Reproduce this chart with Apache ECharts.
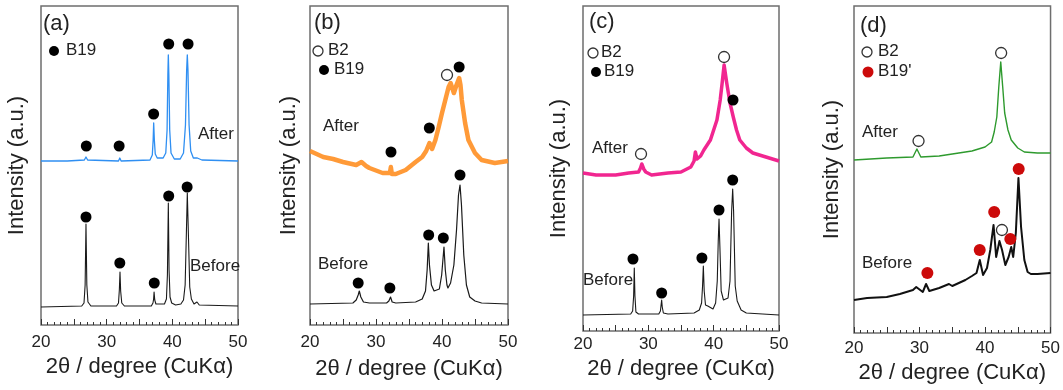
<!DOCTYPE html>
<html>
<head>
<meta charset="utf-8">
<script src="https://cdn.jsdelivr.net/npm/echarts@6/dist/echarts.min.js"></script>
<style>
  html, body { margin: 0; padding: 0; background: #fff; }
  #chart { width: 1063px; height: 390px; }
</style>
</head>
<body>
<div id="chart"></div>
<script>
// XRD patterns (2θ in degrees, intensity in arbitrary units)
const xTicks = [20, 30, 40, 50];

// (a)
const aBefore = [[20,18],[26.2,19],[26.55,22],[26.72,40],[26.85,101],[26.98,40],[27.15,23],[27.6,19],
  [31.5,19],[31.8,22],[31.93,35],[32.03,53],[32.13,34],[32.3,22],[32.7,19],
  [36.8,19],[37.05,22],[37.15,26],[37.22,33],[37.32,25],[37.5,21],
  [38.8,21],[39.1,26],[39.25,50],[39.39,122],[39.5,55],[39.65,28],[39.9,22],[40.5,20],
  [41.3,21],[41.7,25],[41.95,40],[42.15,95],[42.28,132],[42.45,90],[42.65,38],[42.9,26],[43.3,21],[43.75,23],[44.1,20],[50,19]];
const aAfter = [[20,164],[24,164],[26.6,165],[26.85,168],[27.1,165],[31.8,164],[32.0,167],[32.2,164],
  [36.6,165],[36.95,170],[37.08,185],[37.16,202],[37.26,185],[37.4,171],[37.7,167],[38.6,167],
  [39.0,172],[39.2,195],[39.32,250],[39.39,270],[39.47,250],[39.6,195],[39.8,172],[40.3,166],
  [41.2,166],[41.7,172],[42.0,200],[42.18,255],[42.28,270],[42.38,255],[42.55,200],[42.8,174],
  [43.2,167],[43.8,167],[44.5,165],[50,164]];
const aB19 = [[26.85,108],[32.0,62],[37.25,42],[39.45,129],[42.25,138],
  [26.9,179],[31.9,179],[37.15,211],[39.45,281],[42.4,281]];

// (b)
const bBefore = [[20,21],[26.5,22],[27.0,25],[27.3,30],[27.47,34],[27.7,28],[28.1,23],[29,22],
  [31.6,22],[31.95,24],[32.2,28],[32.45,23],[33,22],[36,23],[37.0,26],[37.5,34],[37.75,55],
  [37.93,82],[38.1,60],[38.4,40],[38.8,34],[39.1,32],[39.6,36],[39.95,50],[40.3,78],[40.5,55],
  [40.75,40],[40.9,37],[41.3,42],[41.8,60],[42.2,95],[42.5,130],[42.73,140],[42.95,120],
  [43.3,70],[43.7,40],[44.2,28],[45,24],[46,22],[50,21]];
const bAfter = [[20,174],[21,171],[22,168],[23.5,166],[25,163],[27,160],[27.8,163],[28.5,159],
  [29,157],[31,152],[32.1,152],[32.25,158],[32.4,151],[33,151],[34.5,155],[36,163],[37,168],
  [37.6,174],[38.1,182],[38.5,176],[39,185],[39.5,198],[40,212],[40.5,225],[41,238],[41.3,242],
  [41.8,232],[42.2,240],[42.6,247],[42.8,240],[43,225],[43.5,202],[44,185],[45,172],[46,165],
  [48,162],[50,164]];
const bB19 = [[27.3,42],[32.1,37],[37.98,90],[40.2,87],[42.73,150],[32.27,173],[38.08,197],[42.6,258]];
const bB2 = [[40.76,250]];

// (c)
const cBefore = [[20,16],[27.3,17],[27.6,20],[27.75,35],[27.85,63],[27.95,35],[28.1,19],[28.5,17],
  [31.6,17],[31.85,20],[31.95,26],[32.04,31],[32.13,24],[32.3,18],[33,17],[37,18],[37.8,21],
  [38.15,28],[38.3,45],[38.42,65],[38.55,40],[38.75,26],[39.1,25],[39.4,23],[39.9,22],[40.3,28],
  [40.55,50],[40.7,90],[40.82,112],[40.95,85],[41.15,40],[41.5,31],[41.8,29],[42.2,33],[42.5,50],
  [42.75,120],[42.91,142],[43.05,120],[43.3,45],[43.6,30],[43.85,28],[44.2,21],[45,18],[50,16]];
const cAfter = [[20,158],[22,156],[25,156],[27,158],[28.5,159],[28.8,163],[29.0,167],[29.3,162],
  [29.6,159],[30.5,156],[33,158],[35,159],[36.5,164],[37.0,170],[37.2,179],[37.45,172],[38,175],
  [38.5,181],[39.5,191],[40.5,211],[41,231],[41.3,248],[41.6,266],[42,248],[42.5,228],[43,214],
  [43.5,201],[44,191],[45,183],[46,178],[48,174],[50,170]];
const cB19 = [[27.65,72],[32.04,38],[38.2,73],[40.82,121],[42.91,151],[42.96,231]];
const cB2 = [[28.88,177],[41.59,274]];

// (d)
const dBefore = [[20,33],[22,35],[25,36],[27,39],[29,43],[29.5,46],[30.5,41],[31.0,49],[31.5,42],
  [33,45],[34.5,49],[35,47],[36,50],[37,53],[38,57],[38.7,60],[39.2,73],[39.7,58],[40.3,65],
  [40.8,83],[41.3,108],[41.7,76],[42.2,92],[42.6,83],[43.1,68],[43.6,76],[44.0,86],[44.3,76],
  [44.7,100],[45.1,155],[45.5,106],[46,73],[46.5,61],[47,59],[48,59],[50,60]];
const dAfter = [[20,173],[25,175],[29,176],[29.6,184],[30.2,176],[33,177],[36,180],[38,182],[40,186],
  [41,191],[41.4,201],[41.8,216],[42.1,246],[42.4,271],[42.7,246],[43.0,220],[43.5,203],[44,193],
  [45,185],[46,181],[48,180],[50,180]];
const dB19p = [[31.2,60],[39.19,83],[41.4,121],[43.86,94],[45.14,164]];
const dB2 = [[42.58,103],[29.85,192],[42.46,280]];

const FONT = 'Liberation Sans, Arial, sans-serif';
const TXT = '#222';
const FRAME = '#6e6e6e';

// plotting boxes for the four panels
const boxes = [
  { left: 41,  top: 6, width: 197, height: 319, labelMargin: 9, nameGap: 30, yGap: 13 },
  { left: 310, top: 6, width: 198, height: 319, labelMargin: 9, nameGap: 33, yGap: 10 },
  { left: 583, top: 6, width: 196, height: 325, labelMargin: 5, nameGap: 25, yGap: 13 },
  { left: 854, top: 6, width: 197, height: 327, labelMargin: 7, nameGap: 29, yGap: 11 }
];

const grid = boxes.map(b => ({
  left: b.left, top: b.top, width: b.width, height: b.height,
  show: true, borderColor: FRAME, borderWidth: 1.5, containLabel: false
}));

const xAxis = boxes.map((b, i) => ({
  type: 'value', gridIndex: i, min: 20, max: 50, interval: 5,
  name: '2θ / degree (CuKα)', nameLocation: 'middle', nameGap: b.nameGap,
  nameTextStyle: { fontFamily: FONT, fontSize: 22, color: TXT },
  axisLine: { show: false },
  axisTick: { show: true, inside: true, length: 6, lineStyle: { color: '#333', width: 1 } },
  minorTick: { show: true, splitNumber: 5, length: 3, lineStyle: { color: '#333', width: 1 } },
  splitLine: { show: false },
  axisLabel: {
    margin: b.labelMargin, fontFamily: FONT, fontSize: 17, color: TXT,
    formatter: v => (xTicks.indexOf(v) >= 0 ? String(v) : '')
  }
}));

const yAxis = boxes.map((b, i) => ({
  type: 'value', gridIndex: i, min: 0, max: b.height,
  name: 'Intensity (a.u.)', nameLocation: 'middle', nameGap: b.yGap,
  nameTextStyle: { fontFamily: FONT, fontSize: 22, color: TXT },
  axisLine: { show: false }, axisTick: { show: false },
  axisLabel: { show: false }, splitLine: { show: false }
}));

function trace(i, data, color, width, opacity) {
  return {
    type: 'line', xAxisIndex: i, yAxisIndex: i, data: data,
    showSymbol: false, symbol: 'none', silent: true, z: 2,
    lineStyle: { color: color, width: width, join: 'round', opacity: opacity || 1 }
  };
}
function filled(i, data, color, size) {
  return {
    type: 'scatter', xAxisIndex: i, yAxisIndex: i, data: data, symbol: 'circle',
    symbolSize: size || 11, z: 5, itemStyle: { color: color || '#000', opacity: 1 }
  };
}
function hollow(i, data) {
  return {
    type: 'scatter', xAxisIndex: i, yAxisIndex: i, data: data, symbol: 'circle',
    symbolSize: 11, z: 5,
    itemStyle: { color: '#fff', borderColor: '#333', borderWidth: 1.3, opacity: 1 }
  };
}

const series = [
  trace(0, aBefore, '#1a1a1a', 1.1),
  trace(0, aAfter, '#2f8ff2', 1.3),
  filled(0, aB19),

  trace(1, bBefore, '#1a1a1a', 1.2),
  trace(1, bAfter, '#ff8f22', 4.5, 0.9),
  filled(1, bB19),
  hollow(1, bB2),

  trace(2, cBefore, '#1a1a1a', 1.1),
  trace(2, cAfter, '#f01a8a', 3.5, 0.95),
  filled(2, cB19),
  hollow(2, cB2),

  trace(3, dBefore, '#111', 2),
  trace(3, dAfter, '#2e9a2e', 1.4),
  filled(3, dB19p, '#cc0a0a', 12),
  hollow(3, dB2)
];

function text(x, y, s, size) {
  return { type: 'text', left: x, top: y - (size || 17) / 2 - 1, z: 10,
    style: { text: s, fontFamily: FONT, fontSize: size || 17, fill: TXT } };
}
function dot(x, y, color, hollowDot, r) {
  return { type: 'circle', shape: { cx: x, cy: y, r: r || 5 }, z: 10,
    style: hollowDot ? { fill: '#fff', stroke: '#333', lineWidth: 1.3 } : { fill: color || '#000' } };
}

const graphic = [
  text(43, 25, '(a)', 22), dot(54, 51), text(66, 51, 'B19'),
  text(198, 135, 'After'), text(190, 267, 'Before'),

  text(314, 24, '(b)', 22), dot(318, 51, null, true), text(328, 51, 'B2'),
  dot(324, 70), text(334, 70, 'B19'),
  text(323, 127, 'After'), text(318, 265, 'Before'),

  text(589, 23, '(c)', 22), dot(593, 53, null, true), text(601, 53, 'B2'),
  dot(596, 72), text(604, 72, 'B19'),
  text(592, 149, 'After'), text(583, 281, 'Before'),

  text(860, 27, '(d)', 22), dot(867, 52, null, true), text(878, 52, 'B2'),
  dot(868, 72, '#cc0a0a', false, 5.5), text(878, 72, "B19'"),
  text(862, 133, 'After'), text(862, 264, 'Before')
];

const chart = echarts.init(document.getElementById('chart'), null, { renderer: 'canvas' });
chart.setOption({
  animation: false,
  backgroundColor: '#fff',
  grid: grid, xAxis: xAxis, yAxis: yAxis, series: series, graphic: graphic
});
</script>
</body>
</html>
